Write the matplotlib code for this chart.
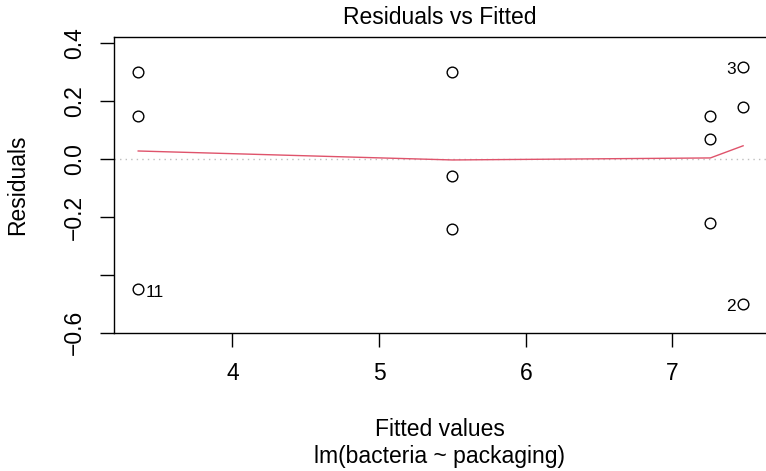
import matplotlib
matplotlib.use('Agg')
import matplotlib.pyplot as plt

plt.rcParams['font.family'] = ['Liberation Sans', 'DejaVu Sans']

# fitted values and residuals (4 packaging groups, 3 obs each)
fitted = [3.357, 3.357, 3.357, 5.50, 5.50, 5.50, 7.259, 7.259, 7.259, 7.482, 7.482, 7.482]
resid = [0.30, 0.15, -0.45, 0.30, -0.06, -0.24, 0.15, 0.07, -0.22, 0.32, 0.18, -0.50]

# lowess smooth at the group fitted values
smooth_x = [3.357, 5.50, 7.259, 7.482]
smooth_y = [0.028, -0.003, 0.004, 0.046]

# labelled observations: (obs id, index, side)
ids = [('11', 2, 'right'), ('3', 9, 'left'), ('2', 11, 'left')]

yticks = [0.4, 0.2, 0.0, -0.2, -0.4, -0.6]
ytick_labels = ['0.4', '0.2', '0.0', '\u22120.2', '', '\u22120.6']
xticks = [4, 5, 6, 7]

fs = 16.5
W, H = 766, 471
fig = plt.figure(figsize=(W / 100, H / 100), dpi=100)
ax = fig.add_axes([114 / W, (H - 332.7) / H, 653 / W, 296 / H])

ax.axhline(0, color='#BEBEBE', lw=1, ls=(0, (1, 3)), zorder=1)
ax.plot(fitted, resid, 'o', mfc='none', mec='black', ms=7.7, mew=1.0, zorder=3)
ax.plot(smooth_x, smooth_y, color='#DF536B', lw=1.0, zorder=2)

for lab, i, side in ids:
    dx = 5.5 if side == 'right' else -5.5
    ha = 'left' if side == 'right' else 'right'
    ax.annotate(lab, (fitted[i], resid[i]), xytext=(dx, -2), textcoords='offset points',
                ha=ha, va='center', fontsize=fs * 0.75, clip_on=False)

ax.set_xlim(3.192, 7.645)
ax.set_ylim(-0.6, 0.423)
ax.set_xticks(xticks)
ax.set_xticklabels([str(t) for t in xticks])
ax.set_yticks(yticks)
ax.set_yticklabels(ytick_labels, rotation=90, va='center')
ax.tick_params(axis='both', direction='out', length=10, width=1, labelsize=fs)
ax.tick_params(axis='x', pad=11)
ax.tick_params(axis='y', pad=10)
for s in ax.spines.values():
    s.set_linewidth(1.0)
ax.spines['right'].set_visible(False)  # box edge falls just off the canvas

fig.text(440 / W, 1 - 17 / H, 'Residuals vs Fitted', ha='center', va='center', fontsize=fs)
fig.text(440 / W, 1 - 430 / H, 'Fitted values', ha='center', va='center', fontsize=fs)
fig.text(440 / W, 1 - 457 / H, 'lm(bacteria ~ packaging)', ha='center', va='center', fontsize=fs)
fig.text(18 / W, 1 - 185 / H, 'Residuals', ha='center', va='center', rotation=90, fontsize=fs)

fig.savefig('out.png', dpi=100)
